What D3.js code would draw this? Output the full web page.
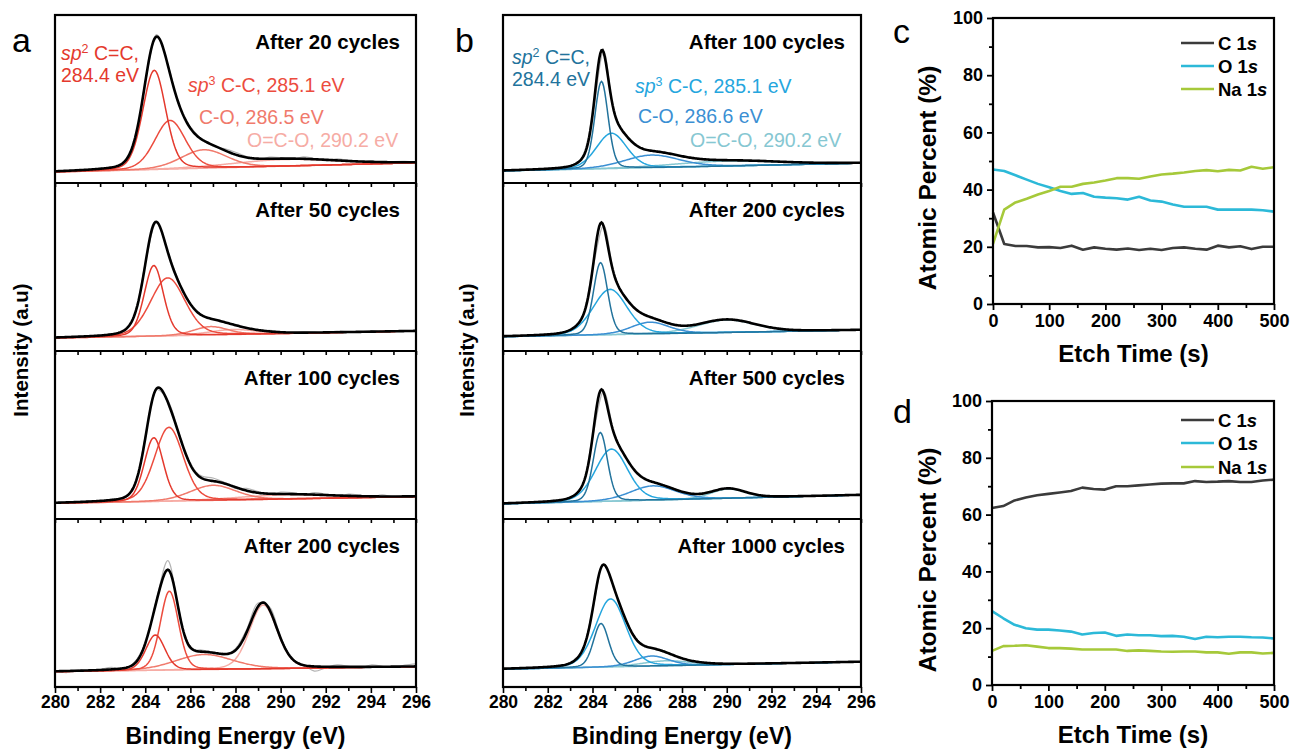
<!DOCTYPE html>
<html>
<head>
<meta charset="utf-8">
<script src="https://cdn.jsdelivr.net/npm/d3@7"></script>
<style>
  body { margin: 0; background: #fff; }
  svg { display: block; font-family: "Liberation Sans", Arial, Helvetica, sans-serif; }
</style>
</head>
<body>
<svg id="fig" width="1291" height="749"></svg>
<script>
// ----- XPS C 1s fits (panels a, b)
const beTicks = [280, 282, 284, 286, 288, 290, 292, 294, 296];
const beMinor = [281, 283, 285, 287, 289, 291, 293, 295];

// components: sp2 C=C, sp3 C-C, C-O, O=C-O  -> [center eV, height, fwhm eV]
const aTitles = ["After 20 cycles", "After 50 cycles", "After 100 cycles", "After 200 cycles"];
const aCenters = [
  [284.4, 285.1, 286.6, 290.2],
  [284.38, 285.0, 286.9, 287.9],
  [284.38, 285.05, 287.0, 290.2],
  [284.45, 285.07, 286.6, 289.23]
];
const aHeights = [
  [59, 29, 11, 4],
  [42, 34.5, 5, 3],
  [38, 44, 9, 2.5],
  [21, 47, 9, 38]
];
const aWidths = [
  [1.2, 1.6, 2.4, 5.5],
  [1.0, 1.8, 1.8, 2.5],
  [1.0, 1.5, 2.4, 5.0],
  [1.0, 0.95, 3.0, 1.45]
];
const aBgLeft = [6.5, 7.7, 9.3, 9.1];
const aBgRight = [12, 11.9, 13.3, 12.1];
// raw-data scatter about the envelope, every 0.5 eV from 280 to 296
const aNoise = [
  [0.3,-0.6,0.5,-0.4,0.2,-0.3,0.4,0.2,-0.5,1.2,0.6,-0.4,0.8,0.3,-0.6,0.9,1.4,0.5,-0.7,1.0,0.6,-0.5,1.2,0.4,-0.6,0.9,0.3,-0.4,0.8,-0.5,0.4,0.6,0.2],
  [0.2,-0.3,0.3,-0.2,0.1,0.3,-0.2,0.2,0.5,-0.4,0.3,0.6,-0.3,0.4,0.2,-0.3,0.5,0.2,-0.2,0.6,0.3,-0.4,0.5,0.2,-0.3,0.6,0.1,-0.2,0.7,-0.3,0.3,0.2,-0.2],
  [-0.5,0.4,-0.8,0.6,-0.3,0.5,-0.6,0.2,0.8,-0.6,1.0,0.4,-0.5,1.3,1.8,0.6,-0.8,1.4,0.7,-0.6,1.1,0.9,-0.5,1.2,0.4,-0.7,1.0,0.6,-0.4,0.9,-0.3,0.5,0.2],
  [0.4,-0.9,0.6,-0.5,0.3,1.2,-0.6,0.8,0.2,1.0,5.5,0.7,-0.8,1.0,0.4,-0.7,0.9,1.5,2.0,1.5,0.6,-0.5,0.4,-2.8,-0.6,1.2,0.4,-0.8,1.1,0.3,-0.5,0.8,1.5]
];

const bTitles = ["After 100 cycles", "After 200 cycles", "After 500 cycles", "After 1000 cycles"];
const bCenters = [
  [284.4, 284.85, 286.64, 290.0],
  [284.36, 284.78, 286.56, 290.0],
  [284.35, 284.85, 286.7, 290.06],
  [284.38, 284.81, 286.64, 287.3]
];
const bHeights = [
  [52, 21, 7.5, 3],
  [43, 27, 7, 7.5],
  [41, 31, 8.5, 5.5],
  [26, 40.5, 6, 3]
];
const bWidths = [
  [0.7, 1.6, 2.9, 5.5],
  [0.75, 1.8, 2.0, 3.0],
  [0.75, 1.7, 2.4, 1.8],
  [0.8, 1.6, 1.8, 2.5]
];
const bBgLeft = [7.2, 8.5, 9.0, 10.6];
const bBgRight = [11.8, 12.5, 14.3, 15.0];
const bNoise = [
  [0.3,-0.4,0.2,-0.3,0.4,-0.2,0.3,0.5,-0.3,0.6,-0.4,0.3,0.5,-0.2,0.4,0.2,-0.3,0.5,0.3,-0.2,0.4,0.2,-0.3,0.5,0.1,-0.2,0.4,0.2,-0.3,0.3,0.2,-0.1,0.2],
  [-0.2,0.3,-0.1,0.2,0.3,-0.3,0.2,0.4,-0.2,0.5,0.2,-0.3,0.4,0.1,-0.2,0.3,0.2,-0.3,0.4,0.2,-0.1,0.3,0.4,-0.2,0.2,0.3,-0.2,0.1,0.3,-0.2,0.2,0.1,-0.1],
  [0.2,-0.3,0.3,-0.2,0.2,0.4,-0.2,0.3,-0.3,0.5,0.3,-0.2,0.4,0.2,-0.3,0.5,0.1,-0.2,0.4,0.3,-0.2,0.3,0.4,-0.3,0.2,0.2,-0.2,0.3,0.1,-0.2,0.3,0.2,0.1],
  [-0.3,0.2,-0.2,0.3,0.1,-0.2,0.3,0.2,-0.3,0.4,-0.2,0.3,0.2,-0.2,0.3,0.4,-0.1,0.2,0.3,-0.2,0.2,0.4,-0.2,0.3,0.1,-0.3,0.2,0.3,-0.1,0.2,0.3,-0.2,0.2]
];

const aColors = ["#e4392d", "#ec4c3e", "#f07a6c", "#f6aca5"];
const bColors = ["#22739c", "#25a6de", "#3b8fd3", "#86c7d2"];
const aPeakLabels = [["C=C,", "284.4 eV"], ["C-C, 285.1 eV"], ["C-O, 286.5 eV"], ["O=C-O, 290.2 eV"]];
const bPeakLabels = [["C=C,", "284.4 eV"], ["C-C, 285.1 eV"], ["C-O, 286.6 eV"], ["O=C-O, 290.2 eV"]];

// ----- Depth profiles (panels c, d)
const etchTime = [0, 20, 40, 60, 80, 100, 120, 140, 160, 180, 200, 220, 240, 260, 280, 300, 320, 340, 360, 380, 400, 420, 440, 460, 480, 500];
const cC1s  = [32, 21, 20.3, 20.3, 19.8, 19.9, 19.6, 20.4, 19, 19.8, 19.3, 19, 19.4, 18.9, 19.3, 18.9, 19.6, 19.8, 19.3, 19, 20.4, 19.8, 20.2, 19.2, 20, 20];
const cO1s  = [47, 46.5, 45, 43.5, 42, 40.8, 39.5, 38.5, 38.8, 37.5, 37.2, 37, 36.5, 37.5, 36.2, 35.8, 34.8, 34, 34, 34, 33, 33, 33, 33, 32.8, 32.3];
const cNa1s = [21, 33, 35.5, 36.8, 38.3, 39.5, 41, 41, 42, 42.5, 43.2, 44, 44, 43.8, 44.6, 45.3, 45.6, 46, 46.5, 46.8, 46.4, 46.9, 46.7, 48, 47.3, 47.8];
const dC1s  = [62.3, 63, 65, 66, 66.8, 67.3, 67.8, 68.3, 69.5, 69, 68.8, 70, 70, 70.3, 70.6, 70.9, 71, 71, 71.8, 71.5, 71.6, 71.8, 71.5, 71.5, 72, 72.3];
const dO1s  = [26, 23.5, 21.2, 20, 19.5, 19.5, 19.2, 18.8, 17.8, 18.3, 18.5, 17.3, 17.8, 17.5, 17.5, 17.2, 17.3, 17, 16.2, 17, 16.8, 17, 17, 16.8, 16.7, 16.4];
const dNa1s = [12, 13.7, 13.8, 14, 13.5, 13, 13, 12.8, 12.5, 12.5, 12.5, 12.5, 12, 12.2, 12, 11.8, 11.7, 11.8, 11.8, 11.5, 11.5, 11, 11.5, 11.5, 11.1, 11.3];
const pctTicks = [0, 20, 40, 60, 80, 100];
const pctMinor = [10, 30, 50, 70, 90];
const etchTicks = [0, 100, 200, 300, 400, 500];
const etchMinor = [50, 150, 250, 350, 450];
const elemNames = ["C 1", "O 1", "Na 1"];
const elemColors = ["#3b3b3b", "#2cb9d8", "#a6c93a"];

const svg = d3.select("#fig");

// pseudo-Voigt component
function pv(e, c, h, w) {
  const t = (e - c) / w;
  return h * (0.8 * Math.exp(-4 * Math.LN2 * t * t) + 0.2 / (1 + 4 * t * t));
}

const subTop = [15, 183, 351, 519];
const subBot = [183, 351, 519, 687];
const fine = d3.range(280, 296.0001, 0.05);
const coarse = d3.range(0, 33).map(i => 280 + i * 0.5);

/***********************************************
 * Stacked XPS panel
 ***********************************************/
function drawXPS(x0, x1, titles, centers, heights, widths, bgL, bgR, noise, colors) {
  const x = d3.scaleLinear().domain([280, 296]).range([x0, x1]);
  const g = svg.append("g");

  titles.forEach((title, k) => {
    const y = d3.scaleLinear().domain([0, 100]).range([subBot[k], subTop[k]]);
    const bg = e => bgL[k] + (bgR[k] - bgL[k]) * (e - 280) / 16;
    const env = e => bg(e) + d3.sum([0, 1, 2, 3], j => pv(e, centers[k][j], heights[k][j], widths[k][j]));
    const line = d3.line().x(d => x(d[0])).y(d => y(d[1]));

    const clipId = "clip" + x0 + "_" + k;
    g.append("clipPath").attr("id", clipId)
      .append("rect").attr("x", x0).attr("y", subTop[k]).attr("width", x1 - x0).attr("height", subBot[k] - subTop[k]);
    const pg = g.append("g").attr("clip-path", `url(#${clipId})`);

    // raw data
    pg.append("path")
      .attr("d", d3.line().curve(d3.curveCatmullRom).x(d => x(d[0])).y(d => y(d[1]))(
        coarse.map((e, i) => [e, env(e) + noise[k][i]])))
      .attr("fill", "none").attr("stroke", "#b4b4b4").attr("stroke-width", 1.2);

    // background
    pg.append("path")
      .attr("d", line(fine.map(e => [e, bg(e)])))
      .attr("fill", "none").attr("stroke", colors[3]).attr("stroke-width", 1.4);

    // components
    for (let j = 3; j >= 0; j--) {
      pg.append("path")
        .attr("d", line(fine.map(e => [e, bg(e) + pv(e, centers[k][j], heights[k][j], widths[k][j])])))
        .attr("fill", "none").attr("stroke", colors[j]).attr("stroke-width", 1.5);
    }

    // envelope
    pg.append("path")
      .attr("d", line(fine.map(e => [e, env(e)])))
      .attr("fill", "none").attr("stroke", "#000").attr("stroke-width", 2.6);

    g.append("text")
      .attr("x", x1 - 16).attr("y", subTop[k] + 34)
      .attr("text-anchor", "end")
      .attr("font-size", 20.5).attr("font-weight", "bold")
      .text(title);

    // divider ticks (pointing into the lower layer)
    if (k > 0) {
      g.append("g")
        .attr("transform", `translate(0,${subTop[k]})`)
        .call(d3.axisBottom(x).tickValues(beTicks.concat(beMinor)).tickSize(4).tickFormat(""))
        .call(a => a.select(".domain").remove())
        .call(a => a.selectAll("line").attr("stroke-width", 1.6));
      g.append("line")
        .attr("x1", x0).attr("x2", x1).attr("y1", subTop[k]).attr("y2", subTop[k])
        .attr("stroke", "#000").attr("stroke-width", 2.2);
    }
  });

  g.append("rect")
    .attr("x", x0).attr("y", subTop[0]).attr("width", x1 - x0).attr("height", subBot[3] - subTop[0])
    .attr("fill", "none").attr("stroke", "#000").attr("stroke-width", 2.2);

  // bottom axis
  g.append("g")
    .attr("transform", `translate(0,${subBot[3]})`)
    .call(d3.axisBottom(x).tickValues(beMinor).tickSize(4).tickFormat(""))
    .call(a => a.select(".domain").remove())
    .call(a => a.selectAll("line").attr("stroke-width", 1.6));
  g.append("g")
    .attr("transform", `translate(0,${subBot[3]})`)
    .call(d3.axisBottom(x).tickValues(beTicks).tickSize(6).tickPadding(3))
    .call(a => a.select(".domain").remove())
    .call(a => a.selectAll("line").attr("stroke-width", 1.6))
    .call(a => a.selectAll("text").attr("font-size", 17.5).attr("font-weight", "bold")
      .attr("font-family", "Liberation Sans, Arial, sans-serif").attr("fill", "#000"));

  g.append("text")
    .attr("x", (x0 + x1) / 2).attr("y", 744)
    .attr("text-anchor", "middle").attr("font-size", 23).attr("font-weight", "bold")
    .text("Binding Energy (eV)");

  return x;
}

function peakLabel(colors, labels, pos) {
  const fs = 19.5;
  // sp2 two-line label
  const t0 = svg.append("text").attr("x", pos[0][0]).attr("y", pos[0][1])
    .attr("font-size", fs).attr("fill", colors[0]);
  t0.append("tspan").attr("font-style", "italic").text("sp");
  t0.append("tspan").attr("font-size", 12.5).attr("dy", -7).text("2");
  t0.append("tspan").attr("dy", 7).text(" " + labels[0][0]);
  svg.append("text").attr("x", pos[0][0]).attr("y", pos[0][1] + 22)
    .attr("font-size", fs).attr("fill", colors[0]).text(labels[0][1]);
  // sp3
  const t1 = svg.append("text").attr("x", pos[1][0]).attr("y", pos[1][1])
    .attr("font-size", fs).attr("fill", colors[1]);
  t1.append("tspan").attr("font-style", "italic").text("sp");
  t1.append("tspan").attr("font-size", 12.5).attr("dy", -7).text("3");
  t1.append("tspan").attr("dy", 7).text(" " + labels[1][0]);
  // C-O, O=C-O
  [2, 3].forEach(j => {
    svg.append("text").attr("x", pos[j][0]).attr("y", pos[j][1])
      .attr("font-size", fs).attr("fill", colors[j]).text(labels[j][0]);
  });
}

drawXPS(55, 416, aTitles, aCenters, aHeights, aWidths, aBgLeft, aBgRight, aNoise, aColors);
drawXPS(503, 861, bTitles, bCenters, bHeights, bWidths, bBgLeft, bBgRight, bNoise, bColors);

peakLabel(aColors, aPeakLabels, [[61, 60], [188, 92], [199, 124], [247, 147]]);
peakLabel(bColors, bPeakLabels, [[512, 64], [635, 93], [638, 123], [690, 147]]);

// Intensity labels
[[28, 350], [474, 350]].forEach(p => {
  svg.append("text")
    .attr("transform", `translate(${p[0]},${p[1]}) rotate(-90)`)
    .attr("text-anchor", "middle").attr("font-size", 20.5).attr("font-weight", "bold")
    .text("Intensity (a.u)");
});

/***********************************************
 * Depth profile panels
 ***********************************************/
function drawProfile(left, right, top, bottom, series, legendY) {
  const x = d3.scaleLinear().domain([0, 500]).range([left, right]);
  const y = d3.scaleLinear().domain([0, 100]).range([bottom, top]);
  const g = svg.append("g");

  const line = d3.line().x((d, i) => x(etchTime[i])).y(d => y(d));
  series.forEach((s, i) => {
    g.append("path").attr("d", line(s))
      .attr("fill", "none").attr("stroke", elemColors[i]).attr("stroke-width", 2.6)
      .attr("stroke-linejoin", "round");
  });

  g.append("rect")
    .attr("x", left).attr("y", top).attr("width", right - left).attr("height", bottom - top)
    .attr("fill", "none").attr("stroke", "#000").attr("stroke-width", 2.2);

  const styleAxis = a => {
    a.select(".domain").remove();
    a.selectAll("line").attr("stroke-width", 1.8);
    a.selectAll("text").attr("font-size", 18).attr("font-weight", "bold")
      .attr("font-family", "Liberation Sans, Arial, sans-serif").attr("fill", "#000");
  };
  g.append("g").attr("transform", `translate(${left},0)`)
    .call(d3.axisLeft(y).tickValues(pctMinor).tickSize(4).tickFormat("")).call(styleAxis);
  g.append("g").attr("transform", `translate(${left},0)`)
    .call(d3.axisLeft(y).tickValues(pctTicks).tickSize(6).tickPadding(4)).call(styleAxis);
  g.append("g").attr("transform", `translate(0,${bottom})`)
    .call(d3.axisBottom(x).tickValues(etchMinor).tickSize(4).tickFormat("")).call(styleAxis);
  g.append("g").attr("transform", `translate(0,${bottom})`)
    .call(d3.axisBottom(x).tickValues(etchTicks).tickSize(6).tickPadding(4)).call(styleAxis);

  g.append("text")
    .attr("x", (left + right) / 2).attr("y", bottom + 58)
    .attr("text-anchor", "middle").attr("font-size", 24).attr("font-weight", "bold")
    .text("Etch Time (s)");
  g.append("text")
    .attr("transform", `translate(936,${(top + bottom) / 2 + 17}) rotate(-90)`)
    .attr("text-anchor", "middle").attr("font-size", 24.5).attr("font-weight", "bold")
    .text("Atomic Percent (%)");

  // legend
  elemNames.forEach((n, i) => {
    const ly = legendY[i];
    g.append("line").attr("x1", 1181).attr("x2", 1214).attr("y1", ly).attr("y2", ly)
      .attr("stroke", elemColors[i]).attr("stroke-width", 2.6);
    const t = g.append("text").attr("x", 1218).attr("y", ly + 6.5)
      .attr("font-size", 18.5).attr("font-weight", "bold");
    t.append("tspan").text(n);
    t.append("tspan").attr("font-style", "italic").text("s");
  });
}

drawProfile(993, 1274, 18, 304, [cC1s, cO1s, cNa1s], [43, 66, 89]);
drawProfile(992, 1274, 401, 685, [dC1s, dO1s, dNa1s], [420, 443, 467]);

// panel letters
[["a", 12, 52], ["b", 455, 52], ["c", 893, 43], ["d", 893, 423]].forEach(p => {
  svg.append("text").attr("x", p[1]).attr("y", p[2])
    .attr("font-size", 34).text(p[0]);
});
</script>
</body>
</html>
